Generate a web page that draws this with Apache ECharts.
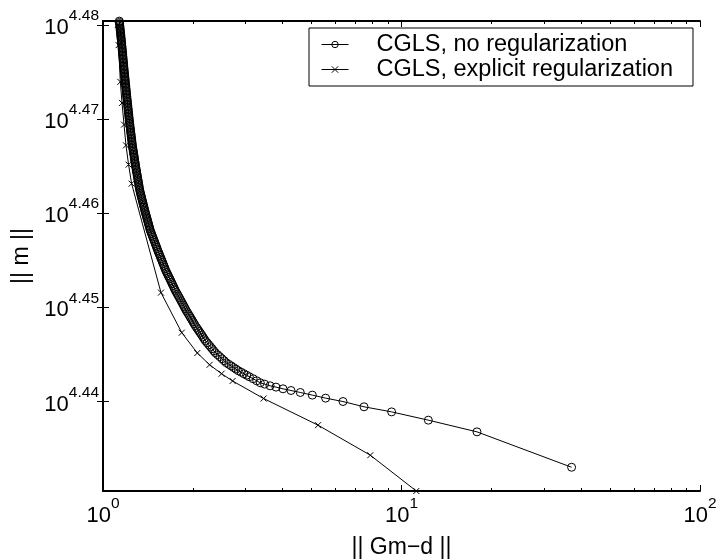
<!DOCTYPE html>
<html>
<head>
<meta charset="utf-8">
<script src="https://cdn.jsdelivr.net/npm/echarts@6/dist/echarts.min.js"></script>
<style>
  html, body { margin: 0; padding: 0; background: #fff; }
  #chart { width: 719px; height: 559px; }
</style>
</head>
<body>
<div id="chart"></div>
<script>
// L-curve of CGLS iterates: residual norm ||Gm-d|| against model norm ||m||.
// Residual norms are plain values; model norms are stored as log10(||m||).

// CGLS without regularization (points along the curve, top to bottom-right)
const plainResidual = [
  1.134, 1.1352, 1.1364, 1.1377, 1.1389, 1.1401, 1.1413, 1.1426, 1.1438, 1.145,
  1.1462, 1.1474, 1.1487, 1.1499, 1.1511, 1.1523, 1.1536, 1.1548,
  1.156, 1.1572, 1.1583, 1.1595, 1.1607, 1.1618, 1.163, 1.1642, 1.1653, 1.1665,
  1.1677, 1.1688, 1.17, 1.1712, 1.1723, 1.1735, 1.1747, 1.1758,
  1.177, 1.1783, 1.1796, 1.1808, 1.1821, 1.1834, 1.1847, 1.1859, 1.1872, 1.1885,
  1.1898, 1.1911, 1.1923, 1.1936, 1.1949, 1.1962, 1.1974, 1.1987,
  1.2, 1.2015, 1.2029, 1.2044, 1.2059, 1.2074, 1.2088, 1.2103, 1.2118, 1.2132,
  1.2147, 1.2162, 1.2176, 1.2191, 1.2206, 1.2221, 1.2235,
  1.225, 1.2267, 1.2284, 1.2301, 1.2318, 1.2335, 1.2352, 1.2369, 1.2386, 1.2404,
  1.2421, 1.2438, 1.2455, 1.2472, 1.2489, 1.2506, 1.2523,
  1.254, 1.2563, 1.2585, 1.2608, 1.2631, 1.2653, 1.2676, 1.2699, 1.2721, 1.2744,
  1.2767, 1.2789, 1.2812, 1.2835, 1.2857,
  1.288, 1.2907, 1.2933, 1.296, 1.2987, 1.3013, 1.304, 1.3067, 1.3093, 1.312,
  1.3147, 1.3173, 1.32, 1.3227, 1.3253,
  1.328, 1.332, 1.336, 1.34, 1.344, 1.348, 1.352, 1.356, 1.36, 1.364, 1.368, 1.372, 1.376,
  1.38, 1.3846, 1.3892, 1.3938, 1.3985, 1.4031, 1.4077, 1.4123, 1.4169, 1.4215,
  1.4262, 1.4308, 1.4354,
  1.44, 1.4472, 1.4543, 1.4615, 1.4687, 1.4758, 1.483, 1.4902, 1.4973, 1.5045,
  1.5117, 1.5188,
  1.526, 1.5341, 1.5422, 1.5503, 1.5583, 1.5664, 1.5745, 1.5826, 1.5907, 1.5988,
  1.6068, 1.6149,
  1.623, 1.6333, 1.6437, 1.654, 1.6643, 1.6747, 1.685, 1.6953, 1.7057, 1.716,
  1.7263, 1.7367,
  1.747, 1.761, 1.775, 1.789, 1.803, 1.817, 1.831, 1.845, 1.859, 1.873, 1.887,
  1.901, 1.9181, 1.9353, 1.9524, 1.9695, 1.9866, 2.0038, 2.0209,
  2.038, 2.0585, 2.079, 2.0995, 2.12, 2.1405, 2.161, 2.1815,
  2.202, 2.2313, 2.2607, 2.29, 2.3193, 2.3487,
  2.378, 2.42, 2.462, 2.504, 2.546,
  2.588, 2.6384, 2.6888, 2.7392, 2.7896,
  2.84, 2.903, 2.966, 3.029,
  3.092, 3.183, 3.274,
  3.365, 3.478, 3.627, 3.798, 4.009, 4.264, 4.581, 5.026, 5.569,
  6.368, 7.489, 9.266, 12.30, 17.90, 37.14
];
const plainLogModel = [
  4.48039, 4.48025, 4.48011, 4.47996, 4.47982, 4.47968, 4.47954, 4.47940, 4.47926, 4.47912,
  4.47897, 4.47883, 4.47869, 4.47855, 4.47841, 4.47826, 4.47812, 4.47798,
  4.47784, 4.47769, 4.47754, 4.47740, 4.47725, 4.47710, 4.47695, 4.47681, 4.47666, 4.47651,
  4.47636, 4.47621, 4.47607, 4.47592, 4.47577, 4.47562, 4.47548, 4.47533,
  4.47518, 4.47503, 4.47488, 4.47474, 4.47459, 4.47444, 4.47429, 4.47415, 4.47400, 4.47385,
  4.47370, 4.47355, 4.47341, 4.47326, 4.47311, 4.47296, 4.47282, 4.47267,
  4.47252, 4.47236, 4.47221, 4.47205, 4.47189, 4.47174, 4.47158, 4.47142, 4.47127, 4.47111,
  4.47096, 4.47080, 4.47064, 4.47049, 4.47033, 4.47017, 4.47002,
  4.46986, 4.46970, 4.46955, 4.46939, 4.46923, 4.46908, 4.46892, 4.46876, 4.46861, 4.46845,
  4.46830, 4.46814, 4.46798, 4.46783, 4.46767, 4.46751, 4.46736,
  4.46720, 4.46704, 4.46689, 4.46673, 4.46658, 4.46642, 4.46626, 4.46611, 4.46595, 4.46580,
  4.46564, 4.46548, 4.46533, 4.46517, 4.46502,
  4.46486, 4.46470, 4.46453, 4.46437, 4.46421, 4.46404, 4.46388, 4.46372, 4.46355, 4.46339,
  4.46323, 4.46306, 4.46290, 4.46274, 4.46257,
  4.46241, 4.46225, 4.46208, 4.46192, 4.46176, 4.46159, 4.46143, 4.46127, 4.46110, 4.46094,
  4.46078, 4.46062, 4.46045,
  4.46029, 4.46013, 4.45996, 4.45980, 4.45963, 4.45947, 4.45931, 4.45914, 4.45898, 4.45882,
  4.45865, 4.45849, 4.45832,
  4.45816, 4.45798, 4.45781, 4.45763, 4.45745, 4.45727, 4.45710, 4.45692, 4.45674, 4.45656,
  4.45639, 4.45621,
  4.45603, 4.45585, 4.45568, 4.45550, 4.45532, 4.45514, 4.45497, 4.45479, 4.45461, 4.45443,
  4.45426, 4.45408,
  4.45390, 4.45372, 4.45355, 4.45337, 4.45319, 4.45302, 4.45284, 4.45266, 4.45249, 4.45231,
  4.45213, 4.45196,
  4.45178, 4.45159, 4.45139, 4.45120, 4.45101, 4.45081, 4.45062, 4.45042, 4.45023, 4.45004, 4.44984,
  4.44965, 4.44945, 4.44925, 4.44905, 4.44885, 4.44865, 4.44845, 4.44825,
  4.44805, 4.44785, 4.44765, 4.44745, 4.44726, 4.44706, 4.44686, 4.44666,
  4.44646, 4.44625, 4.44603, 4.44582, 4.44561, 4.44539,
  4.44518, 4.44497, 4.44476, 4.44454, 4.44433,
  4.44412, 4.44395, 4.44378, 4.44361, 4.44344,
  4.44327, 4.44311, 4.44295, 4.44279,
  4.44263, 4.44242, 4.44220,
  4.44199, 4.44185, 4.44167, 4.44153, 4.44135, 4.44117, 4.44096, 4.44068, 4.44036,
  4.44000, 4.43944, 4.43890, 4.43802, 4.43678, 4.43302
];

// CGLS with explicit regularization
const regResidual = [
  1.121, 1.128, 1.143, 1.158, 1.176, 1.194, 1.218, 1.247,
  1.564, 1.836, 2.070, 2.276, 2.496, 2.718, 3.452, 5.252, 7.862, 11.21
];
const regLogModel = [
  4.47997, 4.47784, 4.47394, 4.47170, 4.46940, 4.46720, 4.46515, 4.46313,
  4.45156, 4.44731, 4.44515, 4.44390, 4.44295, 4.44218, 4.44032, 4.43749, 4.43430, 4.43050
];

const seriesNames = ['CGLS, no regularization', 'CGLS, explicit regularization'];

// Axis ticks (decade exponents and log10 of model norm)
const xDecades = [0, 1, 2];
const xMinorMultiples = [2, 3, 4, 5, 6, 7, 8, 9, 20, 30, 40, 50, 60, 70, 80, 90];
const yTickExponents = [4.44, 4.45, 4.46, 4.47, 4.48];

const xRange = [0, 2];
const yRange = [4.4305, 4.4804];

const FONT = '"Liberation Sans", Arial, Helvetica, sans-serif';
const xMinorExp = xMinorMultiples.map(v => Math.log10(v));

const powRich = {
  b: { fontFamily: FONT, fontSize: 22, lineHeight: 31, verticalAlign: 'bottom', color: '#000' },
  s: { fontFamily: FONT, fontSize: 15.5, lineHeight: 16, verticalAlign: 'top', color: '#000' }
};
const powLabel = digits => v => '{b|10}{s|' + v.toFixed(digits) + '}';

const frameLine = { show: true, lineStyle: { color: '#000', width: 2 } };
const tickStyle = { color: '#000', width: 1 };

function xAxisDef(position, major) {
  return {
    type: 'value', min: xRange[0], max: xRange[1], position: position,
    gridIndex: 0,
    axisLine: major ? frameLine : { show: false },
    axisTick: {
      show: true, inside: true, length: major ? 6 : 3,
      customValues: major ? xDecades : xMinorExp, lineStyle: tickStyle
    },
    axisLabel: { show: false },
    splitLine: { show: false }
  };
}

const xAxes = [
  xAxisDef('bottom', true),
  xAxisDef('bottom', false),
  xAxisDef('top', true),
  xAxisDef('top', false)
];
xAxes[0].axisLabel = {
  show: true, customValues: xDecades, margin: 5,
  formatter: powLabel(0), rich: powRich
};
xAxes[0].name = '|| Gm\u2212d ||';
xAxes[0].nameLocation = 'middle';
xAxes[0].nameGap = 45;
xAxes[0].nameTextStyle = { fontFamily: FONT, fontSize: 23, color: '#000' };

function yAxisDef(position) {
  return {
    type: 'value', min: yRange[0], max: yRange[1], position: position,
    gridIndex: 0,
    axisLine: frameLine,
    axisTick: { show: true, inside: true, length: 6, customValues: yTickExponents, lineStyle: tickStyle },
    axisLabel: { show: false },
    splitLine: { show: false }
  };
}
const yAxes = [yAxisDef('left'), yAxisDef('right')];
yAxes[0].axisLabel = {
  show: true, customValues: yTickExponents, margin: 4,
  padding: [0, 0, 3, 0],
  formatter: powLabel(2), rich: powRich
};
yAxes[0].name = '|| m ||';
yAxes[0].nameLocation = 'middle';
yAxes[0].nameRotate = 90;
yAxes[0].nameGap = 70;
yAxes[0].nameTextStyle = { fontFamily: FONT, fontSize: 23, color: '#000' };

const toPoints = (xs, ys) => xs.map((x, i) => [Math.log10(x), ys[i]]);

const chart = echarts.init(document.getElementById('chart'), null, { renderer: 'canvas' });
chart.setOption({
  animation: false,
  backgroundColor: '#fff',
  textStyle: { fontFamily: FONT, color: '#000' },
  grid: { left: 103, right: 19, top: 21, bottom: 68, containLabel: false, outerBoundsMode: 'none' },
  xAxis: xAxes,
  yAxis: yAxes,
  legend: {
    left: 309, top: 28, orient: 'vertical',
    itemWidth: 27, itemHeight: 8, itemGap: 0,
    padding: [4, 20, 4, 12],
    borderColor: '#000', borderWidth: 1, borderRadius: 0, backgroundColor: '#fff',
    selectedMode: false,
    lineStyle: { width: 1, color: '#000' },
    itemStyle: { borderWidth: 1, borderColor: '#000', color: 'rgba(0,0,0,0)' },
    textStyle: { fontFamily: FONT, fontSize: 23.5, lineHeight: 25, color: '#000', padding: [0, 0, 0, 23] },
    data: seriesNames
  },
  series: [
    {
      name: seriesNames[0], type: 'line', xAxisIndex: 0, yAxisIndex: 0,
      data: toPoints(plainResidual, plainLogModel),
      symbol: 'circle', symbolSize: 8, clip: false,
      lineStyle: { color: '#000', width: 1 },
      itemStyle: { color: 'rgba(0,0,0,0)', borderColor: '#000', borderWidth: 1 },
      emphasis: { disabled: true }, silent: true
    },
    {
      name: seriesNames[1], type: 'line', xAxisIndex: 0, yAxisIndex: 0,
      data: toPoints(regResidual, regLogModel),
      symbol: 'path://M0,0L10,10M10,0L0,10', symbolSize: 6, clip: false,
      lineStyle: { color: '#000', width: 1 },
      itemStyle: { color: 'rgba(0,0,0,0)', borderColor: '#000', borderWidth: 1 },
      emphasis: { disabled: true }, silent: true
    }
  ]
});
</script>
</body>
</html>
